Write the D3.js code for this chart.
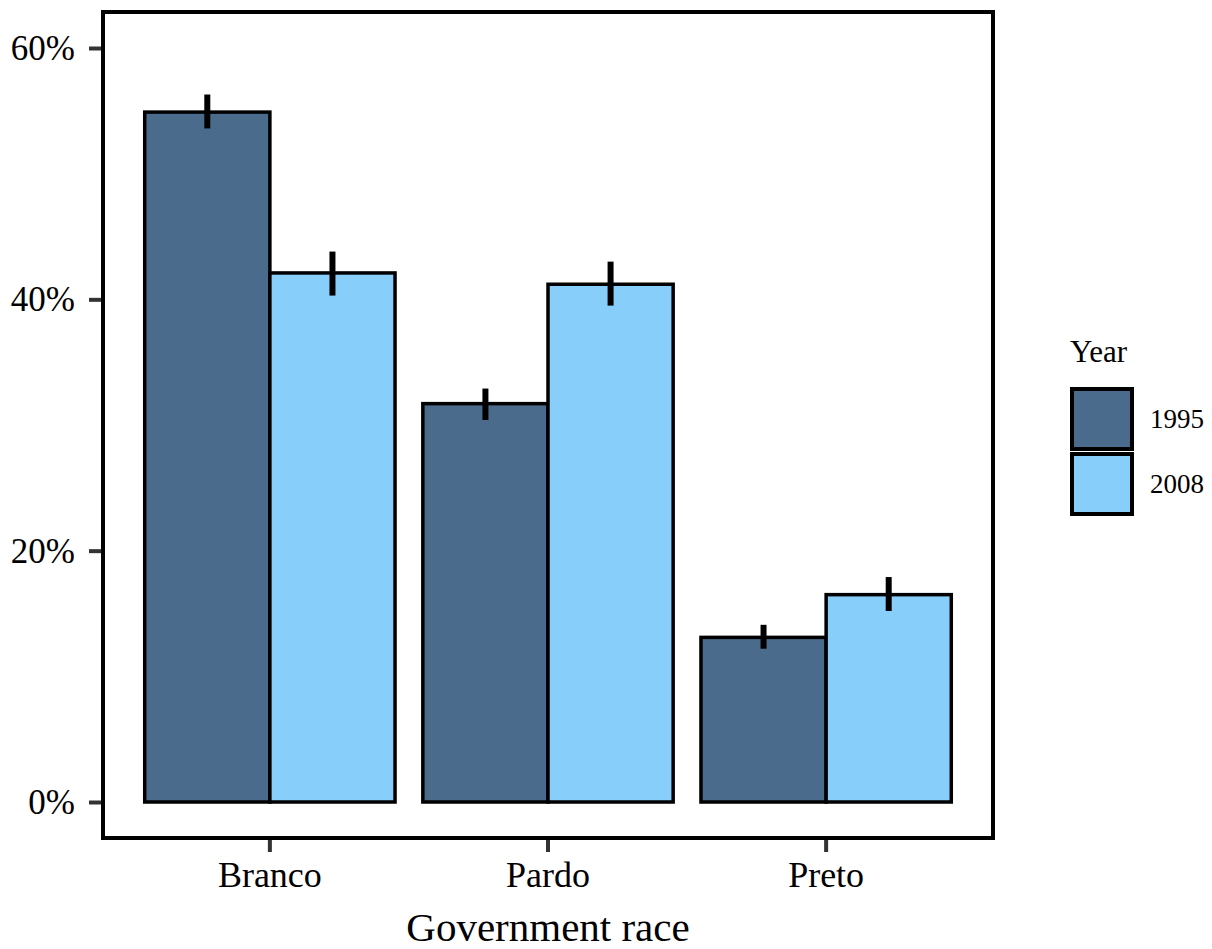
<!DOCTYPE html>
<html lang="en">
<head>
    <meta charset="UTF-8">
    <title>Government race</title>
    <script src="https://cdn.jsdelivr.net/npm/d3@7"></script>
    <style>
        body { margin: 0; background: #fff; }
        text { font-family: 'Liberation Serif', 'DejaVu Serif', serif; fill: #000; }
    </style>
</head>
<body>
<svg id="img" width="1212" height="949"></svg>
<script>
    // data
    var categories = ["Branco", "Pardo", "Preto"];
    var years = ["1995", "2008"];
    var share1995 = [54.9, 31.7, 13.1];
    var share2008 = [42.1, 41.2, 16.5];
    var low1995 = [53.6, 30.4, 12.2];
    var high1995 = [56.3, 32.9, 14.1];
    var low2008 = [40.3, 39.5, 15.2];
    var high2008 = [43.8, 43.0, 17.9];
    var yTicks = [0, 20, 40, 60];
    var colors = ["#4A6B8C", "#87CEFA"];

    var rows = [];
    categories.forEach(function (c, i) {
        rows.push({cat: c, year: years[0], v: share1995[i], lo: low1995[i], hi: high1995[i]});
        rows.push({cat: c, year: years[1], v: share2008[i], lo: low2008[i], hi: high2008[i]});
    });

    var svg = d3.select("#img"),
        PANEL = {left: 103, right: 993, top: 12, bottom: 838};

    var x = d3.scaleBand()
        .domain(categories)
        .range([PANEL.left, PANEL.right])
        .paddingInner(0.1)
        .paddingOuter(0.15);

    var xSub = d3.scaleBand()
        .domain(years)
        .range([0, x.bandwidth()]);

    var y = d3.scaleLinear()
        .domain([0, 60])
        .range([802, 48]);

    var color = d3.scaleOrdinal().domain(years).range(colors);

    // bars
    svg.append("g").selectAll("rect")
        .data(rows)
        .enter().append("rect")
        .attr("x", function (d) { return x(d.cat) + xSub(d.year); })
        .attr("y", function (d) { return y(d.v); })
        .attr("width", xSub.bandwidth())
        .attr("height", function (d) { return y(0) - y(d.v); })
        .attr("fill", function (d) { return color(d.year); })
        .attr("stroke", "#000")
        .attr("stroke-width", 3.5);

    // error bars
    svg.append("g").selectAll("line")
        .data(rows)
        .enter().append("line")
        .attr("x1", function (d) { return x(d.cat) + xSub(d.year) + xSub.bandwidth() / 2; })
        .attr("x2", function (d) { return x(d.cat) + xSub(d.year) + xSub.bandwidth() / 2; })
        .attr("y1", function (d) { return y(d.lo); })
        .attr("y2", function (d) { return y(d.hi); })
        .attr("stroke", "#000")
        .attr("stroke-width", 6);

    // panel border
    svg.append("rect")
        .attr("x", PANEL.left)
        .attr("y", PANEL.top)
        .attr("width", PANEL.right - PANEL.left)
        .attr("height", PANEL.bottom - PANEL.top)
        .attr("fill", "none")
        .attr("stroke", "#000")
        .attr("stroke-width", 4);

    // axes
    var yAxis = d3.axisLeft(y)
        .tickValues(yTicks)
        .tickFormat(function (d) { return d + "%"; })
        .tickSize(12)
        .tickPadding(14);

    var gy = svg.append("g")
        .attr("transform", "translate(" + (PANEL.left - 2) + ",0)")
        .call(yAxis);
    gy.select(".domain").remove();
    gy.selectAll("line").attr("stroke", "#333").attr("stroke-width", 4);
    gy.selectAll("text").attr("font-size", 35).attr("dy", "0.33em");

    var xAxis = d3.axisBottom(x)
        .tickSize(12)
        .tickPadding(12);

    var gx = svg.append("g")
        .attr("transform", "translate(0," + (PANEL.bottom + 2) + ")")
        .call(xAxis);
    gx.select(".domain").remove();
    gx.selectAll("line").attr("stroke", "#333").attr("stroke-width", 4);
    gx.selectAll("text").attr("font-size", 36).attr("y", 47).attr("dy", 0);

    svg.append("text")
        .attr("x", (PANEL.left + PANEL.right) / 2)
        .attr("y", 941)
        .attr("text-anchor", "middle")
        .attr("font-size", 41)
        .text("Government race");

    // legend
    var legend = svg.append("g").attr("transform", "translate(1070,0)");
    legend.append("text")
        .attr("x", 0)
        .attr("y", 362)
        .attr("font-size", 31)
        .text("Year");

    var items = legend.selectAll("g.item")
        .data(years)
        .enter().append("g")
        .attr("class", "item")
        .attr("transform", function (d, i) { return "translate(0," + (389 + i * 65) + ")"; });

    items.append("rect")
        .attr("x", 2)
        .attr("y", 0)
        .attr("width", 60)
        .attr("height", 60)
        .attr("fill", function (d) { return color(d); })
        .attr("stroke", "#000")
        .attr("stroke-width", 4);

    items.append("text")
        .attr("x", 80)
        .attr("y", 30)
        .attr("dy", "0.35em")
        .attr("font-size", 27)
        .text(function (d) { return d; });
</script>
</body>
</html>
